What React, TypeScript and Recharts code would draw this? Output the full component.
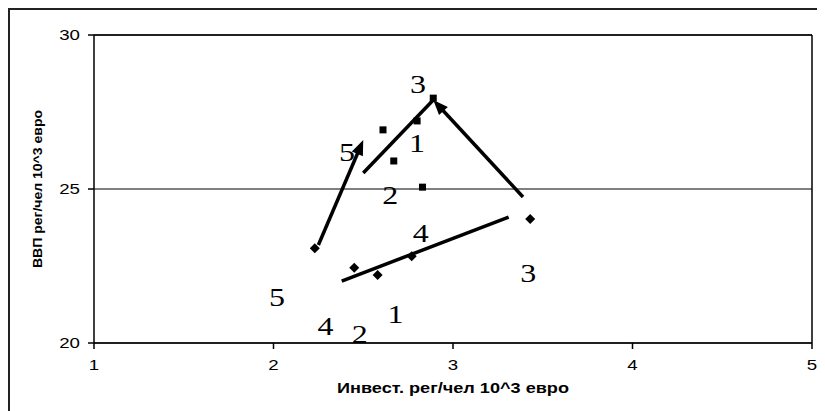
import React from 'react';
import {
  ScatterChart,
  Scatter,
  XAxis,
  YAxis,
  CartesianGrid,
  ReferenceLine,
} from 'recharts';

// square markers (upper group)
const squareInv = [2.8, 2.61, 2.67, 2.83, 2.89];
const squareGdp = [27.21, 26.92, 25.91, 25.06, 27.95];

// diamond markers (lower group)
const diamondInv = [2.23, 2.45, 2.58, 2.77, 3.43];
const diamondGdp = [23.08, 22.44, 22.21, 22.82, 24.03];

// region numbers written on the plot
const labelText = ['3', '1', '5', '2', '4', '3', '5', '4', '2', '1'];
const labelInv = [2.805, 2.8, 2.41, 2.65, 2.82, 3.42, 2.02, 2.29, 2.48, 2.68];
const labelGdp = [28.38, 26.49, 26.17, 24.8, 23.57, 22.27, 21.49, 20.52, 20.26, 20.91];

// trend line and arrows
const segFromInv = [2.38, 2.25, 2.5, 3.39];
const segFromGdp = [22.01, 23.18, 25.52, 24.74];
const segToInv = [3.31, 2.5, 2.89, 2.89];
const segToGdp = [24.09, 26.59, 27.89, 27.89];
const segHead = [false, true, false, true];

const xTicks = [1, 2, 3, 4, 5];
const yTicks = [20, 25, 30];

const xTitle = 'Инвест. рег/чел 10^3 евро';
const yTitle = 'ВВП рег/чел 10^3 евро';

const squares = squareInv.map((x, i) => ({ x, y: squareGdp[i] }));
const diamonds = diamondInv.map((x, i) => ({ x, y: diamondGdp[i] }));
const labels = labelInv.map((x, i) => ({ x, y: labelGdp[i], text: labelText[i] }));

const SANS = "'Liberation Sans', Arial, sans-serif";
const SERIF = "'Liberation Serif', 'Times New Roman', serif";

const SquareDot = (props: any) => {
  const { cx, cy } = props;
  return <rect x={cx - 3.5} y={cy - 3.5} width={7} height={7} fill="#000" />;
};

const DiamondDot = (props: any) => {
  const { cx, cy } = props;
  const r = 5;
  return (
    <polygon
      points={`${cx},${cy - r} ${cx + r},${cy} ${cx},${cy + r} ${cx - r},${cy}`}
      fill="#000"
    />
  );
};

const NumberLabel = (props: any) => {
  const { cx, cy, payload } = props;
  return (
    <text
      x={cx}
      y={cy}
      textAnchor="middle"
      dominantBaseline="central"
      fontFamily={SERIF}
      fontSize={26}
      textLength={16 * payload.text.length}
      lengthAdjust="spacingAndGlyphs"
      fill="#000"
    >
      {payload.text}
    </text>
  );
};

const XTick = (props: any) => {
  const { x, y, payload } = props;
  const s = String(payload.value);
  return (
    <text
      x={x}
      y={y + 11}
      textAnchor="middle"
      fontFamily={SANS}
      fontSize={14}
      textLength={10.4 * s.length}
      lengthAdjust="spacingAndGlyphs"
      fill="#000"
    >
      {s}
    </text>
  );
};

const YTick = (props: any) => {
  const { x, y, payload } = props;
  const s = String(payload.value);
  return (
    <text
      x={x}
      y={y + 5}
      textAnchor="end"
      fontFamily={SANS}
      fontSize={14}
      textLength={10.4 * s.length}
      lengthAdjust="spacingAndGlyphs"
      fill="#000"
    >
      {s}
    </text>
  );
};

const XTitle = (props: any) => {
  const { viewBox } = props;
  const cx = viewBox.x + viewBox.width / 2;
  return (
    <text
      x={cx}
      y={viewBox.y + 50}
      textAnchor="middle"
      fontFamily={SANS}
      fontSize={14}
      fontWeight="bold"
      textLength={232}
      lengthAdjust="spacingAndGlyphs"
      fill="#000"
    >
      {xTitle}
    </text>
  );
};

const YTitle = (props: any) => {
  const { viewBox } = props;
  const cx = viewBox.x + 8;
  const cy = viewBox.y + viewBox.height / 2;
  return (
    <text
      x={cx}
      y={cy}
      transform={`rotate(-90, ${cx}, ${cy})`}
      textAnchor="middle"
      fontFamily={SANS}
      fontSize={13}
      fontWeight="bold"
      textLength={158}
      lengthAdjust="spacingAndGlyphs"
      fill="#000"
    >
      {yTitle}
    </text>
  );
};

const makeArrow = (head: boolean) => (props: any) => {
  const { x1, y1, x2, y2 } = props;
  const dx = x2 - x1;
  const dy = y2 - y1;
  const len = Math.sqrt(dx * dx + dy * dy) || 1;
  const ux = dx / len;
  const uy = dy / len;
  const hl = 15;
  const hw = 6;
  const bx = x2 - ux * hl;
  const by = y2 - uy * hl;
  return (
    <g>
      <line
        x1={x1}
        y1={y1}
        x2={head ? bx + ux * 2 : x2}
        y2={head ? by + uy * 2 : y2}
        stroke="#000"
        strokeWidth={3.5}
      />
      {head && (
        <polygon
          points={`${x2},${y2} ${bx - uy * hw},${by + ux * hw} ${bx + uy * hw},${by - ux * hw}`}
          fill="#000"
        />
      )}
    </g>
  );
};

export default function App() {
  return (
    <div
      style={{
        width: 815,
        height: 401,
        borderLeft: '2px solid #222',
        borderTop: '2px solid #222',
        background: '#fff',
      }}
    >
      <ScatterChart width={815} height={401} margin={{ top: 25, right: 13, bottom: 13, left: 24 }}>
        <CartesianGrid horizontal vertical={false} stroke="#000" strokeWidth={1} />
        <XAxis
          type="number"
          dataKey="x"
          domain={[1, 5]}
          ticks={xTicks}
          height={55}
          stroke="#000"
          strokeWidth={1.5}
          tickSize={6}
          tickMargin={10}
          tick={<XTick />}
          label={<XTitle />}
        />
        <YAxis
          type="number"
          dataKey="y"
          domain={[20, 30]}
          ticks={yTicks}
          width={60}
          stroke="#000"
          strokeWidth={1.5}
          tickSize={6}
          tickMargin={8}
          tick={<YTick />}
          label={<YTitle />}
        />
        <ReferenceLine y={30} stroke="#000" strokeWidth={1.5} />
        <ReferenceLine x={5} stroke="#000" strokeWidth={1.5} />
        {segFromInv.map((x, i) => (
          <ReferenceLine
            key={`seg-${i}`}
            segment={[
              { x, y: segFromGdp[i] },
              { x: segToInv[i], y: segToGdp[i] },
            ]}
            shape={makeArrow(segHead[i])}
          />
        ))}
        <Scatter data={labels} shape={NumberLabel} isAnimationActive={false} />
        <Scatter data={squares} shape={SquareDot} isAnimationActive={false} />
        <Scatter data={diamonds} shape={DiamondDot} isAnimationActive={false} />
      </ScatterChart>
    </div>
  );
}
